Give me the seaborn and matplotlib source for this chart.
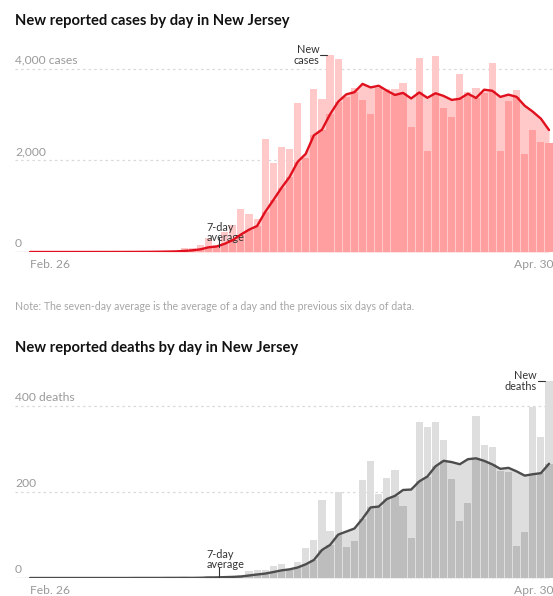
import numpy as np
import pandas as pd
import matplotlib
matplotlib.use("Agg")
import matplotlib.pyplot as plt
import matplotlib.transforms as mtransforms
import seaborn as sns

# ---------------- data (Feb. 26 .. Apr. 30, one value per day) ----------------
day_index = list(range(65))
date_labels = ["Feb. 26", "Apr. 30"]

new_cases = [0, 0, 0, 0, 0, 0, 0, 1, 1, 2, 0, 2, 5, 4, 8, 6, 21, 19, 29, 80,
             89, 160, 315, 148, 437, 587, 930, 831, 727, 2474, 1949, 2299, 2262,
             3250, 2060, 3559, 3335, 4305, 4229, 3381, 3585, 3326, 3021, 3590,
             3561, 3563, 3699, 2734, 4240, 2206, 4287, 3150, 2953, 3881, 3505,
             3581, 3478, 4124, 2207, 3302, 3540, 2150, 2668, 2408, 2388]

cases_avg = [0, 0, 0, 0, 0, 0, 0, 0.1, 0.3, 0.6, 0.6, 0.9, 1.6, 2.1, 3.1, 3.9,
             6.6, 9.3, 13.1, 23.9, 36.0, 57.7, 101.9, 120.0, 179.7, 259.4, 380.9,
             486.9, 567.9, 876.3, 1133.6, 1399.6, 1638.9, 1970.3, 2145.9, 2550.4,
             2673.4, 3010.0, 3285.7, 3445.6, 3493.4, 3674.3, 3597.4, 3633.9,
             3527.6, 3432.4, 3477.9, 3356.3, 3486.9, 3370.4, 3470.0, 3411.3,
             3324.1, 3350.1, 3460.3, 3366.1, 3547.9, 3524.6, 3389.9, 3439.7,
             3391.0, 3197.4, 3067.0, 2914.1, 2666.1]

new_deaths = [0, 0, 0, 0, 0, 0, 0, 0, 0, 0, 0, 0, 0, 1, 0, 0, 0, 1, 0, 1,
              0, 2, 4, 2, 5, 4, 7, 17, 18, 19, 27, 32, 21, 37, 69, 88, 182, 109,
              200, 71, 86, 229, 272, 196, 232, 251, 167, 93, 362, 351, 362, 322,
              230, 132, 175, 376, 310, 305, 249, 246, 75, 106, 398, 328, 458]

deaths_avg = [0, 0, 0, 0, 0, 0, 0, 0, 0, 0, 0, 0, 0, 0.14, 0.14, 0.14, 0.14,
              0.29, 0.29, 0.43, 0.29, 0.57, 1.14, 1.43, 2.0, 2.57, 3.43, 5.86,
              8.14, 10.29, 13.86, 17.71, 20.14, 24.43, 31.86, 41.86, 65.14, 76.86,
              100.86, 108.0, 115.0, 137.86, 164.14, 166.14, 183.71, 191.0, 204.71,
              205.71, 224.71, 236.0, 259.71, 272.57, 269.57, 264.57, 276.29,
              278.29, 272.43, 264.29, 253.86, 256.14, 248.0, 238.14, 241.29,
              243.86, 265.71]

cases_ticks = [0, 2000, 4000]
cases_tick_labels = ["0", "2,000", "4,000 cases"]
deaths_ticks = [0, 200, 400]
deaths_tick_labels = ["0", "200", "400 deaths"]

# ---------------- styling ----------------
W, H = 553, 596
FONT = ["Lato", "DejaVu Sans"]
sns.set_theme(style="white")
plt.rcParams["font.family"] = FONT

fig = plt.figure(figsize=(W / 100, H / 100), dpi=100)
fig.patch.set_facecolor("white")


def px_axes(left, top, right, bottom):
    return fig.add_axes([left / W, 1 - bottom / H, (right - left) / W, (bottom - top) / H])


def panel(ax, values, avg, ymax, light, dark, line_color, ticks, tick_labels):
    df = pd.DataFrame({"day": day_index, "value": values, "avg": avg})
    df["under"] = np.minimum(df["value"], df["avg"])

    for t in ticks[1:]:
        ax.axhline(t, color="#d9d9d9", lw=0.9, ls=(0, (2, 2.5)), zorder=0)
    ax.axhline(0, color="#d0d0d0", lw=1.0, zorder=0.5)

    ax.fill_between(df["day"], df["avg"], 0, color=light, lw=0, zorder=1)
    sns.barplot(data=df, x="day", y="value", native_scale=True, color=light,
                saturation=1, width=0.88, linewidth=0, ax=ax, zorder=2)
    sns.barplot(data=df, x="day", y="under", native_scale=True, color=dark,
                saturation=1, width=0.88, linewidth=0, ax=ax, zorder=3)
    sns.lineplot(data=df, x="day", y="avg", color=line_color, lw=1.7, ax=ax,
                 zorder=4)

    ax.set_xlim(-1.85, 64.49)
    ax.set_ylim(0, ymax)
    ax.set_xlabel("")
    ax.set_ylabel("")
    ax.set_xticks([])
    ax.set_yticks([])
    for s in ax.spines.values():
        s.set_visible(False)
    ax.patch.set_alpha(0)

    above = mtransforms.offset_copy(ax.transData, fig=fig, x=0, y=2.5, units="points")
    for t, lab in zip(ticks, tick_labels):
        ax.text(0, t, lab,
                transform=mtransforms.blended_transform_factory(ax.transAxes, above),
                ha="left", va="bottom", fontsize=8.7, color="#9a9a9a", family=FONT)

    below = mtransforms.offset_copy(ax.transData, fig=fig, x=0, y=-5, units="points")
    ax.text(day_index[0], 0, date_labels[0], transform=below, ha="left", va="top",
            fontsize=8.7, color="#9a9a9a", family=FONT, clip_on=False)
    ax.text(1.0, 0, date_labels[1],
            transform=mtransforms.blended_transform_factory(ax.transAxes, below),
            ha="right", va="top", fontsize=8.7, color="#9a9a9a", family=FONT,
            clip_on=False)


# ---------------- cases ----------------
ax1 = px_axes(15, 30, 553, 252)
panel(ax1, new_cases, cases_avg, 222 / 0.04575, "#ffc9c9", "#ff9f9f", "#e0101e",
      cases_ticks, cases_tick_labels)

fig.text(15 / W, 1 - 21 / H, "New reported cases by day in New Jersey",
         fontsize=10.6, fontweight="bold", color="#121212", ha="left", va="center",
         family=FONT)

# annotations (cases)
ax1.text(21.8, 190, "7-day\naverage", fontsize=7.8, color="#333333", ha="left",
         va="bottom", family=FONT, linespacing=0.95)
ax1.plot([23.3, 23.3], [100, 300], color="#333333", lw=0.8, zorder=6)
ax1.text(35.7, 4305, "New\ncases", fontsize=7.8, color="#333333", ha="right",
         va="center", family=FONT, linespacing=0.95, clip_on=False)
ax1.plot([35.8, 36.6], [4305, 4305], color="#333333", lw=0.8, zorder=6,
         clip_on=False)

fig.text(15 / W, 1 - 307 / H,
         "Note: The seven-day average is the average of a day and the previous six days of data.",
         fontsize=7.6, color="#a6a6a6", ha="left", va="center", family=FONT)

# ---------------- deaths ----------------
fig.text(15 / W, 1 - 348 / H, "New reported deaths by day in New Jersey",
         fontsize=10.6, fontweight="bold", color="#121212", ha="left", va="center",
         family=FONT)

ax2 = px_axes(15, 360, 553, 578)
panel(ax2, new_deaths, deaths_avg, 218 / 0.43, "#dedede", "#bdbdbd", "#4d4d4d",
      deaths_ticks, deaths_tick_labels)

ax2.text(21.8, 18, "7-day\naverage", fontsize=7.8, color="#333333", ha="left",
         va="bottom", family=FONT, linespacing=0.95)
ax2.plot([23.3, 23.3], [2, 25], color="#333333", lw=0.8, zorder=6)
ax2.text(62.5, 458, "New\ndeaths", fontsize=7.8, color="#333333", ha="right",
         va="center", family=FONT, linespacing=0.95, clip_on=False)
ax2.plot([62.6, 63.5], [458, 458], color="#333333", lw=0.8, zorder=6,
         clip_on=False)

fig.savefig("out.png", dpi=100, facecolor="white")
